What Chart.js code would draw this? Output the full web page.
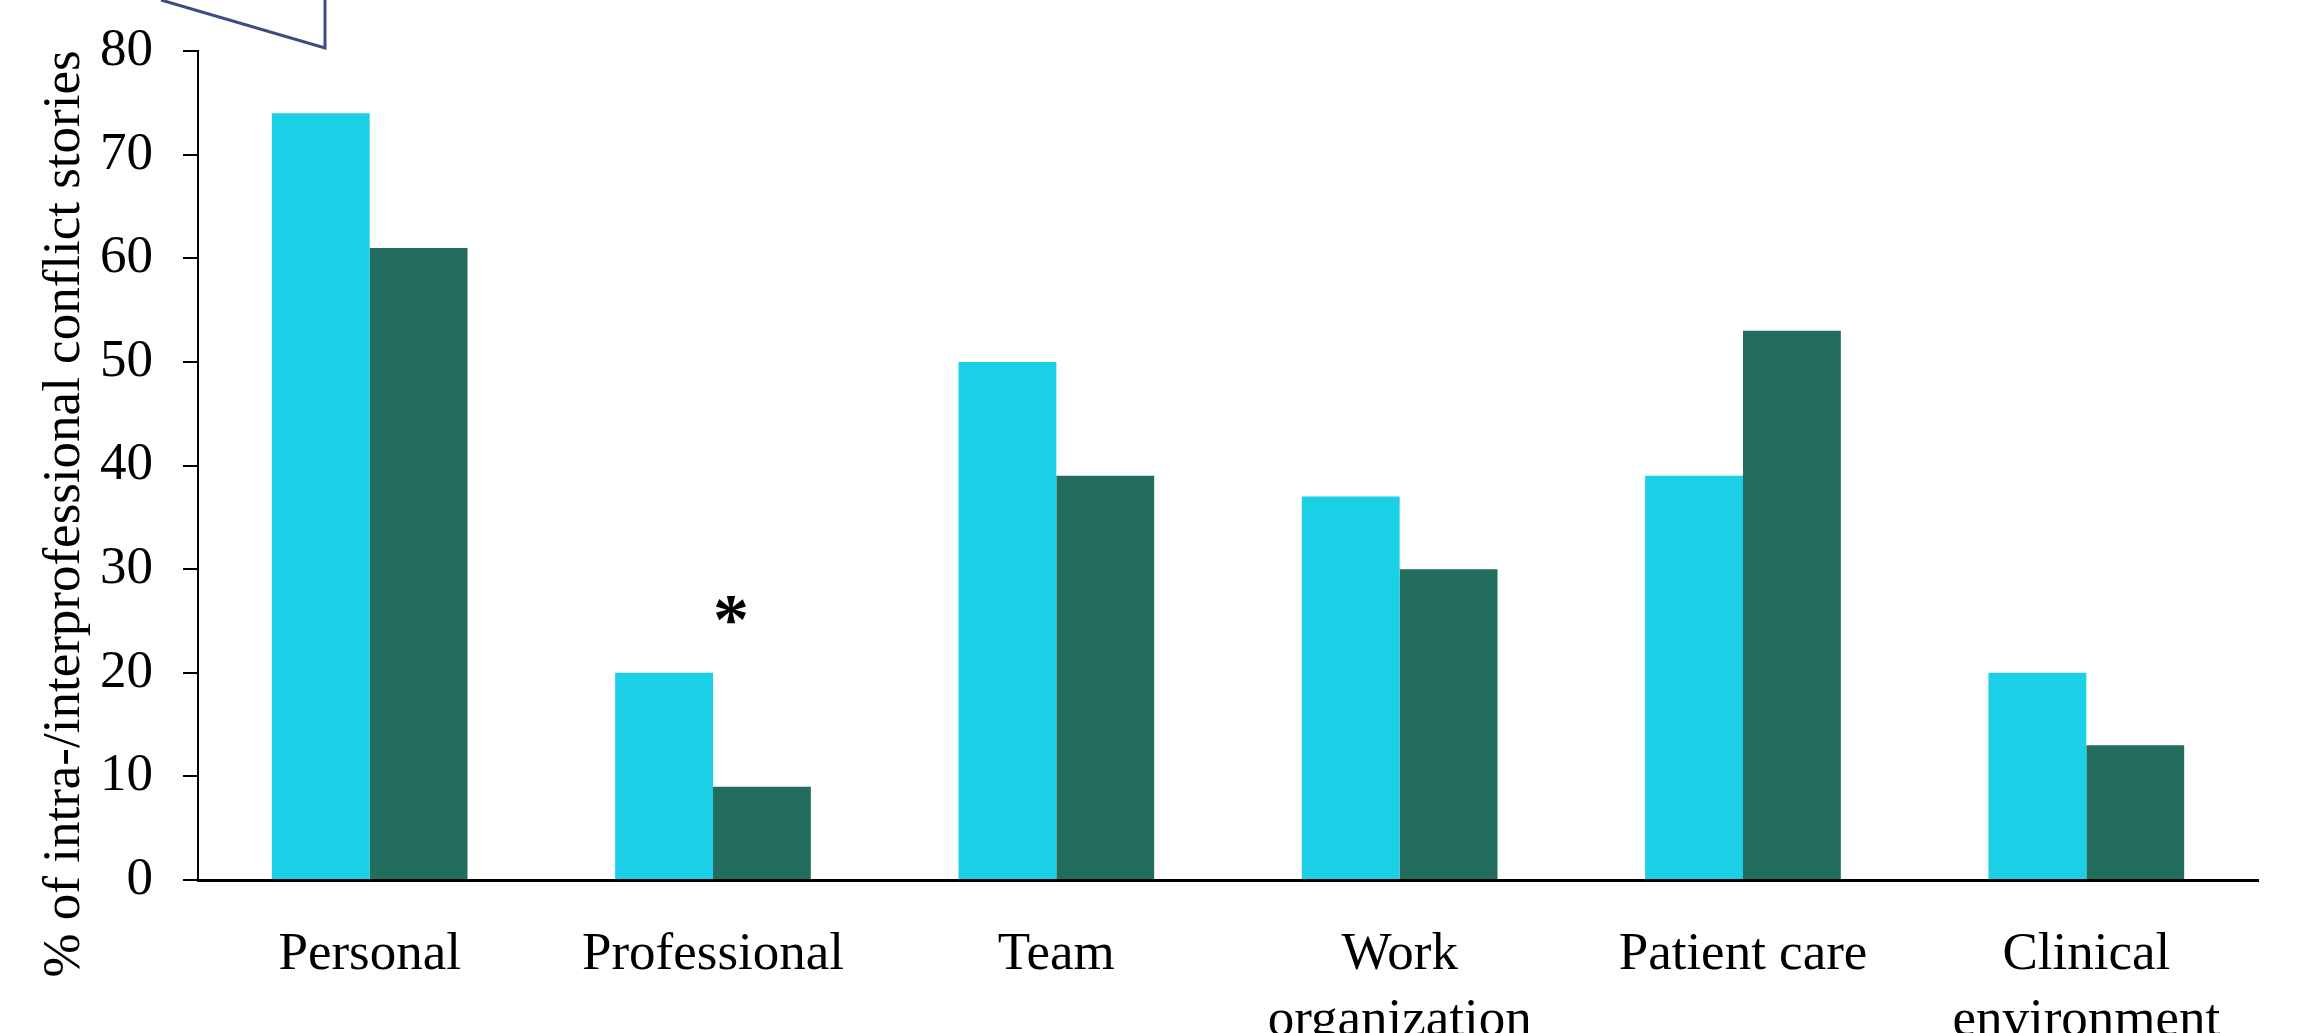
<!DOCTYPE html>
<html lang="en">
<head>
  <meta charset="UTF-8" />
  <title>Conflict stories by category</title>
  <script src="https://cdn.jsdelivr.net/npm/chart.js"></script>
  <style>
    * {
      margin: 0;
      padding: 0;
      box-sizing: border-box;
    }

    body {
      background-color: #fff;
      width: 2299px;
      height: 1033px;
      overflow: hidden;
    }

    canvas {
      display: block;
    }
  </style>
</head>
<body>

  <canvas id="barChart" width="2299" height="1033"></canvas>

  <script>
    // Data
    const categories = ['Personal', 'Professional', 'Team', ['Work', 'organization'], 'Patient care', ['Clinical', 'environment']];
    const intraValues = [74, 20, 50, 37, 39, 20];
    const interValues = [61, 9, 39, 30, 53, 13];
    const yTicks = [0, 10, 20, 30, 40, 50, 60, 70, 80];
    const axisTitle = '% of intra-/interprofessional conflict stories';
    const starAt = { dataset: 1, index: 1, value: 26 };

    const serif = "'Liberation Serif', 'DejaVu Serif', serif";

    // Asterisk, y-axis title and the cut-off callout at the top
    const extras = {
      id: 'extras',
      afterDraw(chart) {
        const ctx = chart.ctx;
        const area = chart.chartArea;
        const bar = chart.getDatasetMeta(starAt.dataset).data[starAt.index];
        const y = chart.scales.y.getPixelForValue(starAt.value);

        ctx.save();
        ctx.fillStyle = '#000';
        ctx.font = 'bold 72px ' + serif;
        ctx.textAlign = 'center';
        ctx.textBaseline = 'middle';
        ctx.fillText('*', bar.x - 31, y + 14);

        ctx.translate(area.left - 133, area.bottom - 366);
        ctx.rotate(-Math.PI / 2);
        ctx.font = '53px ' + serif;
        ctx.fillText(axisTitle, 0, 0);
        ctx.restore();

        ctx.save();
        ctx.strokeStyle = '#3d4d82';
        ctx.lineWidth = 3;
        ctx.beginPath();
        ctx.moveTo(area.left - 37, 0);
        ctx.lineTo(area.left + 127, area.top - 3);
        ctx.lineTo(area.left + 127, 0);
        ctx.stroke();
        ctx.restore();
      }
    };

    const ctx = document.getElementById('barChart').getContext('2d');
    new Chart(ctx, {
      type: 'bar',
      data: {
        labels: categories,
        datasets: [{
          label: 'Intraprofessional',
          data: intraValues,
          backgroundColor: '#1acfe6'
        }, {
          label: 'Interprofessional',
          data: interValues,
          backgroundColor: '#236d5f'
        }]
      },
      options: {
        responsive: false,
        devicePixelRatio: 1,
        animation: false,
        layout: {
          padding: { top: 51, right: 41, bottom: 0, left: 0 }
        },
        plugins: {
          legend: { display: false },
          tooltip: { enabled: false }
        },
        datasets: {
          bar: {
            categoryPercentage: 0.57,
            barPercentage: 1.0
          }
        },
        scales: {
          x: {
            grid: { display: false },
            border: { color: '#000', width: 3 },
            ticks: {
              color: '#000',
              padding: 34,
              maxRotation: 0,
              autoSkip: false,
              font: { family: serif, size: 53, lineHeight: 1.25 }
            },
            afterFit(scale) {
              scale.height = 153;
              scale.paddingLeft = 0;
              scale.paddingRight = 0;
            }
          },
          y: {
            min: 0,
            max: 80,
            afterBuildTicks(scale) {
              scale.ticks = yTicks.map(v => ({ value: v }));
            },
            grid: {
              drawOnChartArea: false,
              drawTicks: true,
              tickLength: 15,
              color: '#000',
              lineWidth: 2
            },
            border: { color: '#000', width: 2 },
            ticks: {
              color: '#000',
              padding: 30,
              font: { family: serif, size: 53 }
            },
            afterFit(scale) {
              scale.width = 198;
              scale.paddingTop = 0;
              scale.paddingBottom = 0;
            }
          }
        }
      },
      plugins: [extras]
    });
  </script>

</body>
</html>
